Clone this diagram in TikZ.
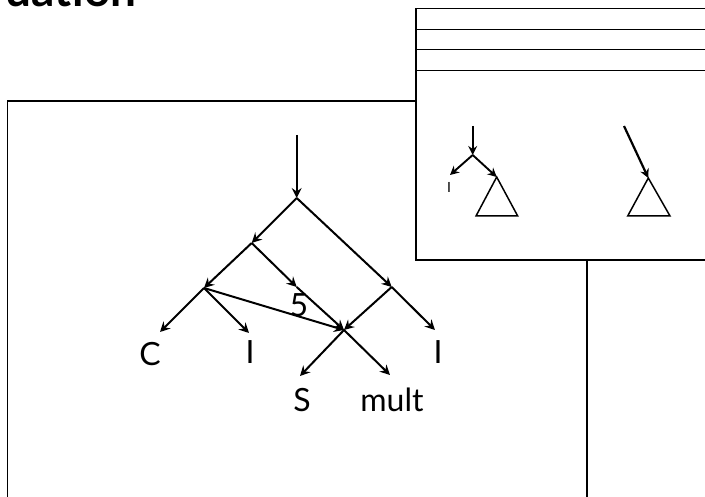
\documentclass[tikz,border=0pt]{standalone}
\usepackage{fontspec}
\setmainfont{Lato}
\usetikzlibrary{arrows.meta}
\begin{document}
\begin{tikzpicture}[x=1pt,y=-1pt,
  arr/.style={-{Stealth[length=10pt,width=10pt,inset=3.5pt]}, line width=2pt},
  sarr/.style={-{Stealth[length=9pt,width=9pt,inset=3pt]}, line width=1.9pt},
  boxline/.style={line width=1.5pt},
  lbl/.style={inner sep=0pt, anchor=base, font=\fontsize{32}{32}\selectfont},
  tri/.style={line width=1.5pt}]
\useasboundingbox (0,0) rectangle (705,497);

% title (cut off at the top)
\node[inner sep=0pt, anchor=base east, font=\fontsize{46}{46}\selectfont\bfseries] (title) at (137,7) {uation};

% large box
\draw[boxline] (7.5,505) |- (587,101) -- (587,505);

% tree coordinates
\coordinate (top) at (296.7,135);
\coordinate (r) at (296.7,198);
\coordinate (a) at (251.7,243);
\coordinate (d) at (296.7,287);
\coordinate (b) at (204,288);
\coordinate (e) at (391.7,287);
\coordinate (x) at (344,330);
\coordinate (ctip) at (160,332);
\coordinate (i1tip) at (249,333);
\coordinate (i2tip) at (435,330);
\coordinate (stip) at (300,376);
\coordinate (mtip) at (390,375);

% labels
\node[lbl] (lc) at (150,366) {C};
\node[lbl] (li1) at (250,363) {I};
\node[lbl] (li2) at (438,363) {I};
\node[lbl] (ls) at (302,412) {S};
\node[lbl] (lm) at (392,412) {mult};
\node[lbl] (l5) at (299,317) {5};

% tree arrows
\draw[arr] (top) -- (r);
\draw[arr] (r) -- (a);
\draw[arr] (r) -- (e);
\draw[arr] (a) -- (b);
\draw[arr] (a) -- (d);
\draw[arr] (b) -- (ctip);
\draw[arr] (b) -- (i1tip);
\draw[arr] (b) -- (x);
\draw[arr] (d) -- (x);
\draw[arr] (e) -- (x);
\draw[arr] (e) -- (i2tip);
\draw[arr] (x) -- (stip);
\draw[arr] (x) -- (mtip);

% inset box
\draw[boxline, fill=white] (416,8.3) rectangle (715,260);
\draw[boxline] (416,29.3) -- (715,29.3);
\draw[boxline] (416,49.3) -- (715,49.3);
\draw[boxline] (416,70.7) -- (715,70.7);

% inset left tree
\coordinate (it) at (472.7,126);
\coordinate (ij) at (472.7,155);
\coordinate (iitip) at (450,175);
\coordinate (apex1) at (496.7,177);
\coordinate (b1l) at (476,216);
\coordinate (b1r) at (517.7,216);
\node[inner sep=0pt, anchor=base, font=\fontsize{14}{14}\selectfont] (smallI) at (449,193) {I};
\draw[sarr] (it) -- (ij);
\draw[sarr] (ij) -- (iitip);
\draw[sarr] (ij) -- (apex1);
\draw[tri] (apex1) -- (b1l) -- (b1r) -- cycle;

% inset right
\coordinate (rt) at (624,126);
\coordinate (apex2) at (648.3,178);
\coordinate (b2l) at (627.7,216);
\coordinate (b2r) at (670,216);
\draw[sarr, line width=2.2pt] (rt) -- (apex2);
\draw[tri] (apex2) -- (b2l) -- (b2r) -- cycle;
\end{tikzpicture}
\end{document}
